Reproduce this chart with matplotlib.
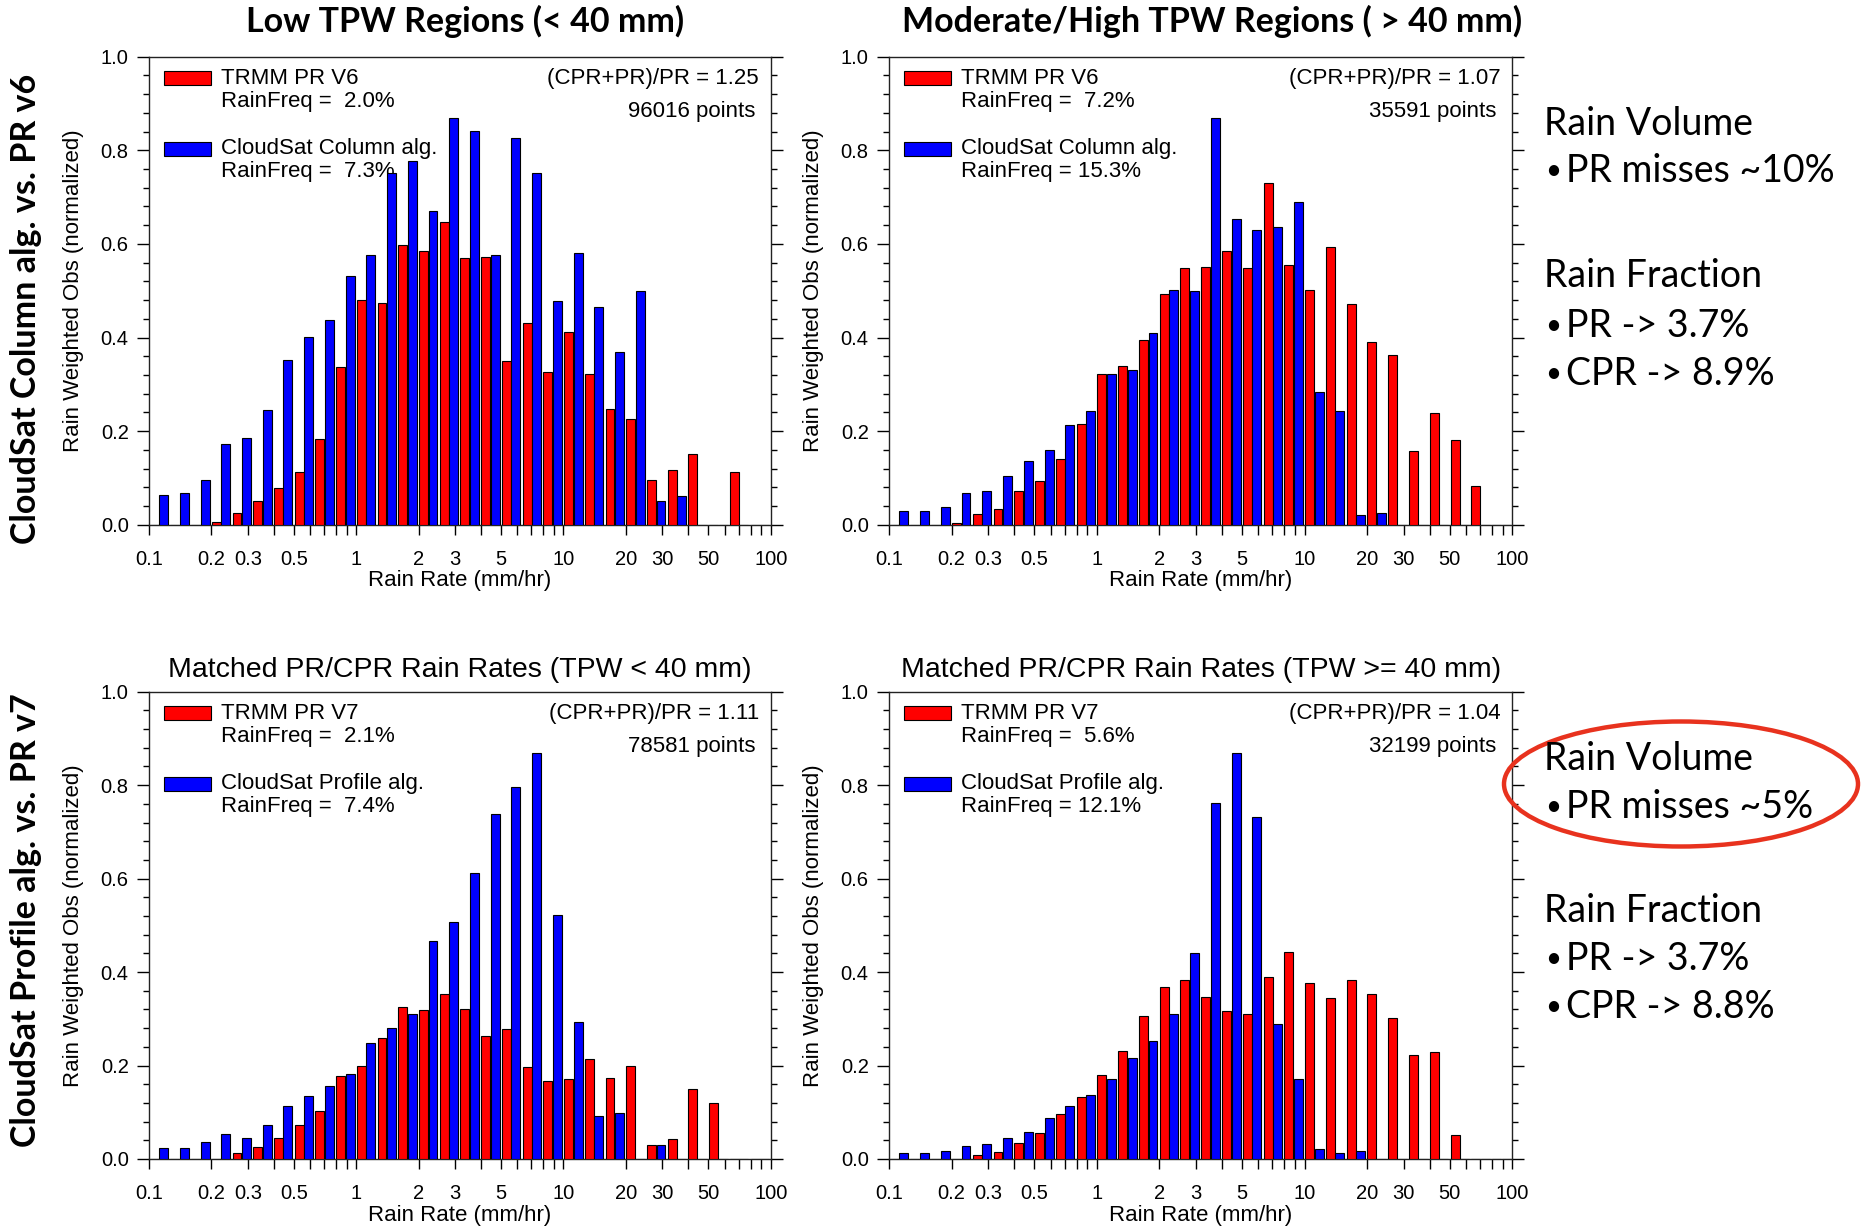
import numpy as np
import matplotlib
matplotlib.use("Agg")
import matplotlib.pyplot as plt
from matplotlib.patches import Rectangle, Ellipse

plt.rcParams['font.family'] = ['Liberation Sans', 'DejaVu Sans']

# rain rate bins (mm/hr), 10 log bins per decade from 0.1 to 100
bin_edges = np.logspace(-1, 2, 31)

# top row: TRMM PR V6 (red) vs CloudSat column alg. (blue)
pr_v6_low = [0, 0, 0, 0.006, 0.025, 0.051, 0.079, 0.112, 0.184, 0.336,
             0.481, 0.474, 0.598, 0.585, 0.646, 0.569, 0.573, 0.349, 0.432, 0.326,
             0.411, 0.322, 0.248, 0.226, 0.095, 0.117, 0.152, 0, 0.112, 0]
cs_col_low = [0.063, 0.068, 0.095, 0.172, 0.186, 0.245, 0.352, 0.402, 0.438, 0.532,
              0.577, 0.752, 0.778, 0.670, 0.870, 0.842, 0.577, 0.827, 0.751, 0.478,
              0.581, 0.465, 0.370, 0.500, 0.051, 0.061, 0, 0, 0, 0]
pr_v6_high = [0, 0, 0, 0.004, 0.023, 0.033, 0.071, 0.093, 0.141, 0.216,
              0.323, 0.340, 0.395, 0.492, 0.548, 0.551, 0.585, 0.549, 0.731, 0.554,
              0.502, 0.594, 0.471, 0.391, 0.362, 0.157, 0.239, 0.180, 0.082, 0]
cs_col_high = [0.030, 0.029, 0.038, 0.068, 0.073, 0.105, 0.136, 0.160, 0.214, 0.244,
               0.323, 0.330, 0.410, 0.502, 0.499, 0.870, 0.653, 0.630, 0.636, 0.689,
               0.283, 0.243, 0.020, 0.025, 0, 0, 0, 0, 0, 0]

# bottom row: TRMM PR V7 (red) vs CloudSat profile alg. (blue)
pr_v7_low = [0, 0, 0, 0, 0.012, 0.025, 0.045, 0.073, 0.103, 0.177,
             0.198, 0.259, 0.325, 0.318, 0.353, 0.322, 0.264, 0.279, 0.196, 0.167,
             0.172, 0.215, 0.174, 0.199, 0.031, 0.042, 0.150, 0.119, 0, 0]
cs_prof_low = [0.023, 0.024, 0.036, 0.053, 0.045, 0.072, 0.113, 0.134, 0.156, 0.181,
               0.248, 0.281, 0.310, 0.467, 0.507, 0.613, 0.738, 0.795, 0.868, 0.523,
               0.293, 0.093, 0.098, 0, 0.031, 0, 0, 0, 0, 0]
pr_v7_high = [0, 0, 0, 0, 0.009, 0.015, 0.035, 0.056, 0.096, 0.133,
              0.179, 0.231, 0.306, 0.369, 0.384, 0.347, 0.317, 0.310, 0.389, 0.443,
              0.377, 0.344, 0.382, 0.353, 0.301, 0.222, 0.229, 0.052, 0, 0]
cs_prof_high = [0.012, 0.013, 0.018, 0.028, 0.033, 0.044, 0.057, 0.087, 0.114, 0.136,
                0.171, 0.217, 0.252, 0.310, 0.440, 0.762, 0.868, 0.731, 0.288, 0.172,
                0.022, 0.013, 0.017, 0, 0, 0, 0, 0, 0, 0]

xtick_vals = [0.1, 0.2, 0.3, 0.4, 0.5, 0.6, 0.7, 0.8, 0.9,
              1, 2, 3, 4, 5, 6, 7, 8, 9,
              10, 20, 30, 40, 50, 60, 70, 80, 90, 100]
xtick_labels = ['0.1', '0.2', '0.3', '', '0.5', '', '', '', '',
                '1', '2', '3', '', '5', '', '', '', '',
                '10', '20', '30', '', '50', '', '', '', '', '100']
ytick_vals = [0.0, 0.2, 0.4, 0.6, 0.8, 1.0]

panels = [
    dict(red=pr_v6_low, blue=cs_col_low, pr='TRMM PR V6', cs='CloudSat Column alg.',
         pr_freq='RainFreq =  2.0%', cs_freq='RainFreq =  7.3%',
         ratio='(CPR+PR)/PR = 1.25', npts='96016 points', title=None),
    dict(red=pr_v6_high, blue=cs_col_high, pr='TRMM PR V6', cs='CloudSat Column alg.',
         pr_freq='RainFreq =  7.2%', cs_freq='RainFreq = 15.3%',
         ratio='(CPR+PR)/PR = 1.07', npts='35591 points', title=None),
    dict(red=pr_v7_low, blue=cs_prof_low, pr='TRMM PR V7', cs='CloudSat Profile alg.',
         pr_freq='RainFreq =  2.1%', cs_freq='RainFreq =  7.4%',
         ratio='(CPR+PR)/PR = 1.11', npts='78581 points',
         title='Matched PR/CPR Rain Rates (TPW < 40 mm)'),
    dict(red=pr_v7_high, blue=cs_prof_high, pr='TRMM PR V7', cs='CloudSat Profile alg.',
         pr_freq='RainFreq =  5.6%', cs_freq='RainFreq = 12.1%',
         ratio='(CPR+PR)/PR = 1.04', npts='32199 points',
         title='Matched PR/CPR Rain Rates (TPW >= 40 mm)'),
]

W, H = 1862, 1227
fig = plt.figure(figsize=(W / 100, H / 100), dpi=100)

# axes boxes in pixels: left, top, right, bottom
boxes = [(149, 56.7, 770.7, 524.7), (889, 56.7, 1512.3, 524.7),
         (149, 691.7, 770.7, 1159), (889, 691.7, 1512.3, 1159)]


def fx(x):
    return x / W


def fy(y):
    return 1 - y / H


for p, (l, t, r, b) in zip(panels, boxes):
    ax = fig.add_axes([fx(l), fy(b), (r - l) / W, (b - t) / H])
    lo = np.log10(bin_edges[:-1])
    step = np.diff(np.log10(bin_edges))
    for vals, color, off in ((p['red'], '#ff0000', 0.03), (p['blue'], '#0000ff', 0.49)):
        left = 10 ** (lo + off * step)
        right = 10 ** (lo + (off + 0.43) * step)
        ax.bar(left, vals, width=right - left, align='edge', color=color,
               edgecolor='black', linewidth=0.8, zorder=3)

    ax.set_xscale('log')
    ax.set_xlim(0.1, 100)
    ax.set_ylim(0, 1)
    ax.minorticks_off()
    ax.set_xticks(xtick_vals, xtick_labels, fontsize=14.5)
    ax.set_yticks(ytick_vals, ['%.1f' % v for v in ytick_vals], fontsize=14.5)
    ax.set_yticks(np.linspace(0, 1, 26), minor=True)
    ax.tick_params(axis='x', which='both', direction='out', length=7.2, width=1,
                   top=False, pad=11)
    ax.tick_params(axis='y', which='major', direction='out', length=8.6, width=1,
                   left=True, right=True, labelright=False, pad=6)
    ax.tick_params(axis='y', which='minor', direction='out', length=4.3, width=1,
                   left=True, right=True)
    for s in ax.spines.values():
        s.set_linewidth(1)
        s.set_color('#222222')

    ax.text(-0.1213, 0.5, 'Rain Weighted Obs (normalized)', transform=ax.transAxes,
            rotation=90, ha='center', va='center', fontsize=16)
    ax.text(0.5, -0.12, 'Rain Rate (mm/hr)', transform=ax.transAxes,
            ha='center', va='center', fontsize=16)
    if p['title']:
        ax.text(0.5, 1.0464, p['title'], transform=ax.transAxes,
                ha='center', va='center', fontsize=20.5)

    # legend boxes and labels
    for yc, col in ((0.954, '#ff0000'), (0.8034, '#0000ff')):
        ax.add_patch(Rectangle((0.0246, yc - 0.015), 0.0746, 0.030, transform=ax.transAxes,
                               facecolor=col, edgecolor='black', linewidth=0.8, zorder=1))
    tkw = dict(transform=ax.transAxes, fontsize=16, va='center', zorder=1)
    ax.text(0.1158, 0.954, p['pr'], ha='left', **tkw)
    ax.text(0.1158, 0.9038, p['pr_freq'], ha='left', **tkw)
    ax.text(0.1158, 0.8034, p['cs'], ha='left', **tkw)
    ax.text(0.1158, 0.7543, p['cs_freq'], ha='left', **tkw)
    ax.text(0.981, 0.954, p['ratio'], ha='right', **tkw)
    ax.text(0.975, 0.8825, p['npts'], ha='right', **tkw)

# column and row headings
hkw = dict(family=['Lato', 'DejaVu Sans'], fontweight='bold', fontsize=24.5,
           ha='center', va='center')
fig.text(fx(465), fy(21.4), 'Low TPW Regions (< 40 mm)', **hkw)
fig.text(fx(1212), fy(21.4), 'Moderate/High TPW Regions ( > 40 mm)', **hkw)
fig.text(fx(26), fy(309), 'CloudSat Column alg. vs. PR v6', rotation=90, **hkw)
fig.text(fx(26), fy(920), 'CloudSat Profile alg. vs. PR v7', rotation=90, **hkw)

# side notes
notes = [
    (135, 'Rain Volume', False), (181.7, 'PR misses ~10%', True),
    (286.7, 'Rain Fraction', False), (336.7, 'PR -> 3.7%', True),
    (385, 'CPR -> 8.9%', True),
    (770, 'Rain Volume', False), (818.3, 'PR misses ~5%', True),
    (921.7, 'Rain Fraction', False), (970, 'PR -> 3.7%', True),
    (1018.3, 'CPR -> 8.8%', True),
]
nkw = dict(family=['Lato', 'DejaVu Sans'], fontsize=27, va='baseline', ha='left')
for y, txt, bullet in notes:
    if bullet:
        fig.text(fx(1545), fy(y - 3), '\u2022', family=['Lato', 'DejaVu Sans'],
                 fontsize=20, va='baseline', ha='left')
        fig.text(fx(1566), fy(y), txt, **nkw)
    else:
        fig.text(fx(1544), fy(y), txt, **nkw)

fig.add_artist(Ellipse((fx(1681), fy(784)), 354 / W, 125 / H, transform=fig.transFigure,
                       fill=False, edgecolor='#e8321e', linewidth=3.2))

fig.savefig('out.png', dpi=100)
